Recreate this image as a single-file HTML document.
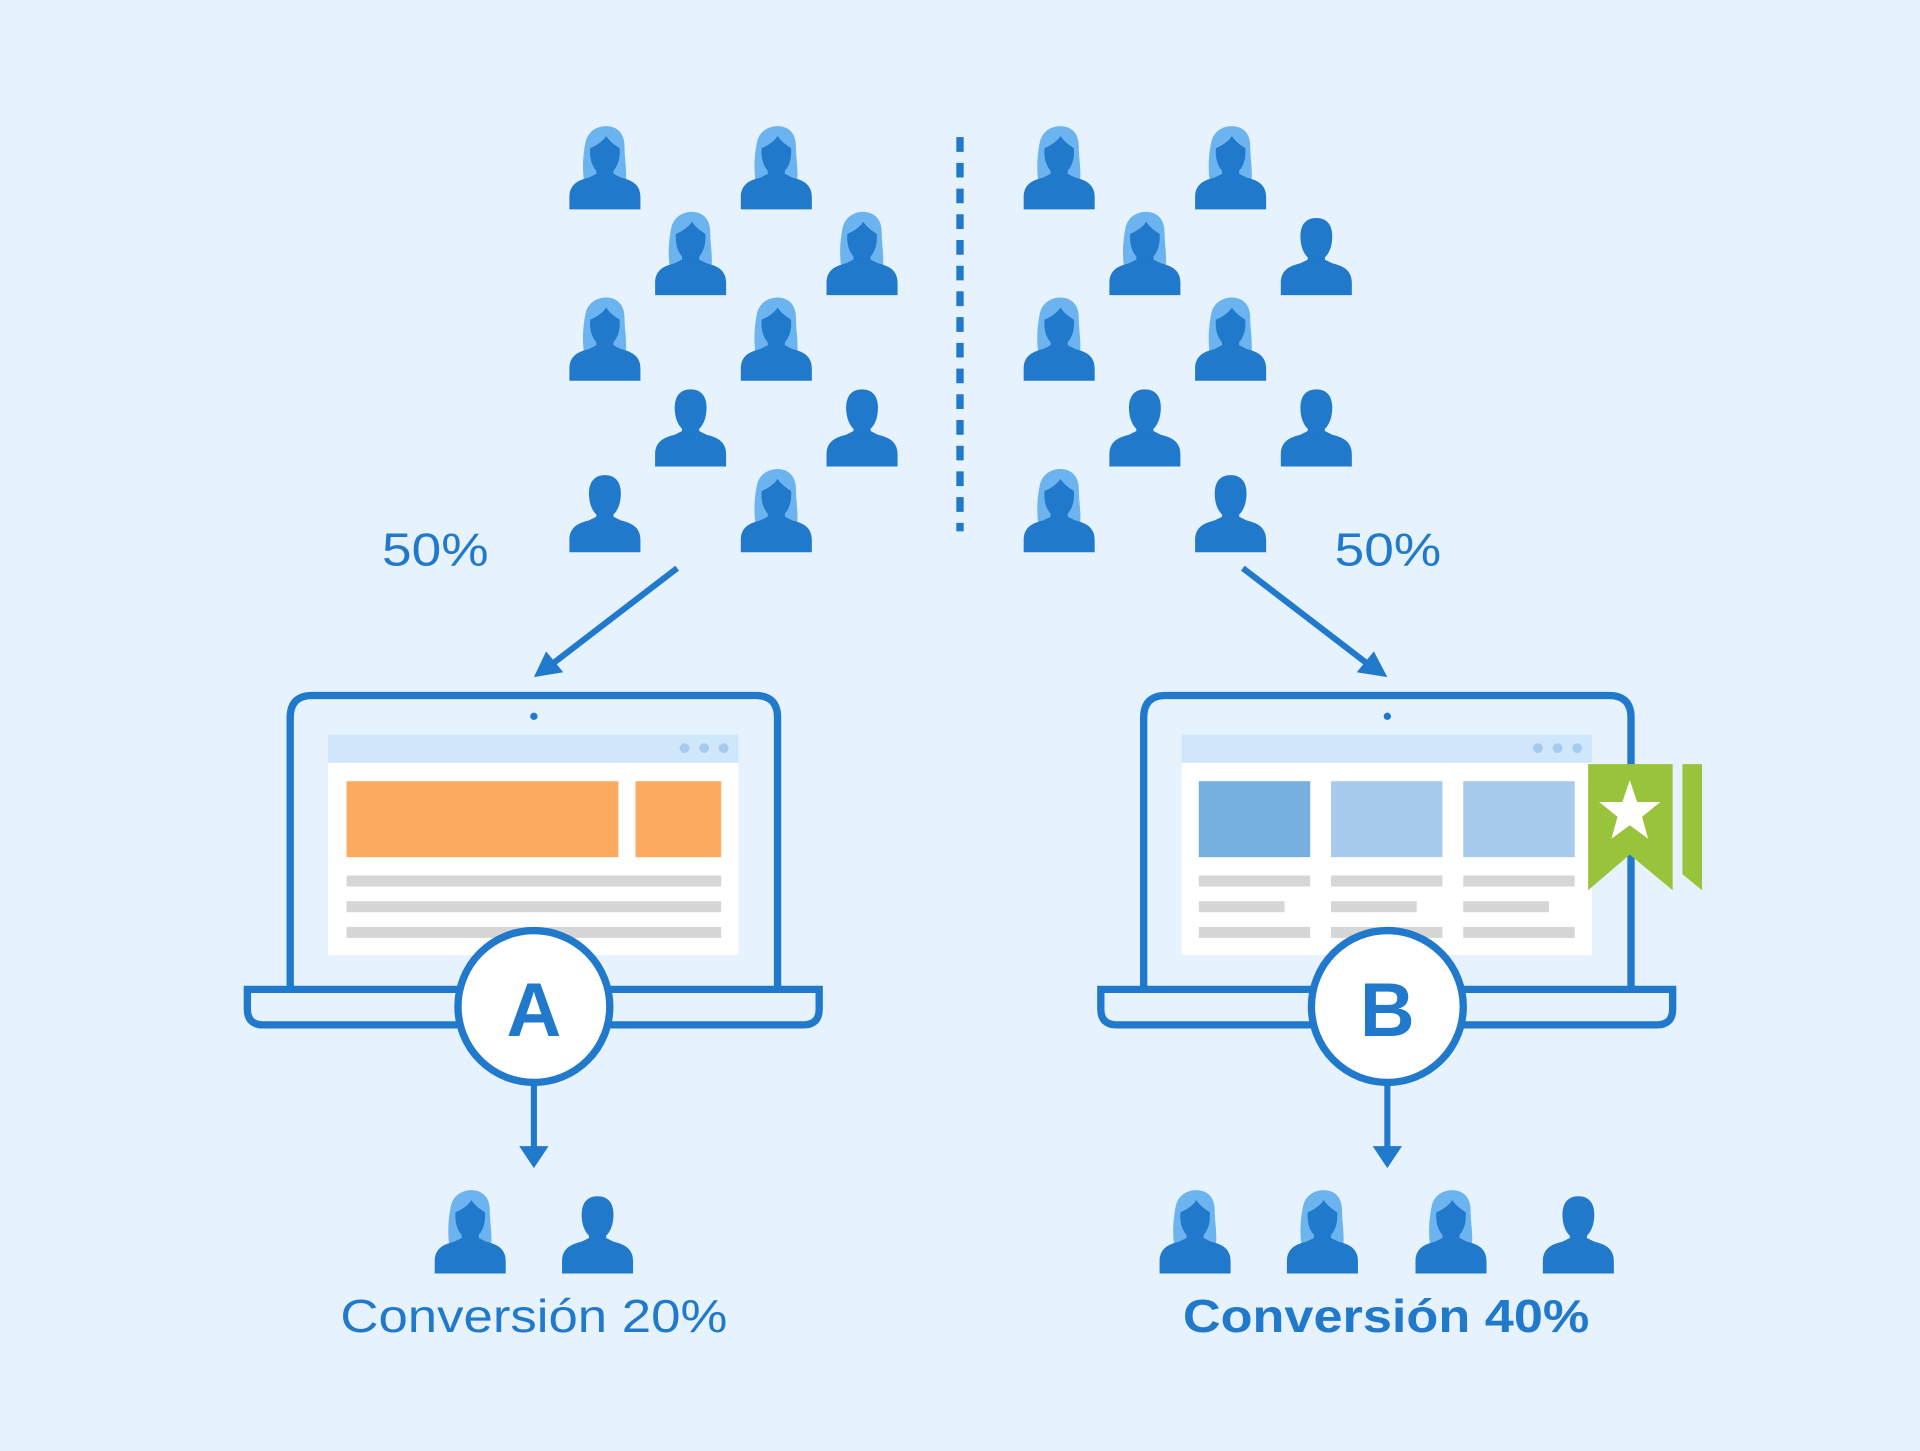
<!DOCTYPE html>
<html><head><meta charset="utf-8"><style>
html,body{margin:0;padding:0;background:#e6f2fd;}
svg{display:block;}
text{font-family:"Liberation Sans",Arial,sans-serif;fill:#2179cc;}
</style></head><body>
<svg width="1920" height="1451" viewBox="0 0 1568 1185" xmlns="http://www.w3.org/2000/svg">
<defs>
<symbol id="f" viewBox="0 0 58 68" overflow="visible">
  <path d="M13,50 C10,38 11,24 13,14 C15,3 24,0 30,0 C39,0 45,6 45,16 C45,28 48,40 45,50 Z" fill="#6cb4ef"/>
  <path d="M0,68 L0,58 C0,47 8,44 16,42 L22,39 L36,39 L42,42 C50,44 58,47 58,58 L58,68 Z" fill="#2179cc"/>
  <rect x="22" y="32" width="14" height="10" fill="#2179cc"/>
  <path d="M17,18 C22,16 28,12 30,8 C33,13 38,16 41,18 C42,30 37,39 29,40 C21,39 16,30 17,18 Z" fill="#2179cc"/>
</symbol>
<symbol id="m" viewBox="0 0 58 68" overflow="visible">
  <path d="M0,68 L0,58 C0,47 8,44 16,42 L22,39 L36,39 L42,42 C50,44 58,47 58,58 L58,68 Z" fill="#2179cc"/>
  <rect x="22" y="32" width="14" height="10" fill="#2179cc"/>
  <path d="M16,20 C16,10 21,5 29,5 C37,5 42,10 42,20 C42,31 37,40 29,40 C21,40 16,31 16,20 Z" fill="#2179cc"/>
</symbol>
</defs>
<rect width="1568" height="1185" fill="#e6f2fd"/>

<use href="#f" x="465" y="103" width="58" height="68"/>
<use href="#f" x="605" y="103" width="58" height="68"/>
<use href="#f" x="836" y="103" width="58" height="68"/>
<use href="#f" x="976" y="103" width="58" height="68"/>
<use href="#f" x="535" y="173" width="58" height="68"/>
<use href="#f" x="675" y="173" width="58" height="68"/>
<use href="#f" x="906" y="173" width="58" height="68"/>
<use href="#m" x="1046" y="173" width="58" height="68"/>
<use href="#f" x="465" y="243" width="58" height="68"/>
<use href="#f" x="605" y="243" width="58" height="68"/>
<use href="#f" x="836" y="243" width="58" height="68"/>
<use href="#f" x="976" y="243" width="58" height="68"/>
<use href="#m" x="535" y="313" width="58" height="68"/>
<use href="#m" x="675" y="313" width="58" height="68"/>
<use href="#m" x="906" y="313" width="58" height="68"/>
<use href="#m" x="1046" y="313" width="58" height="68"/>
<use href="#m" x="465" y="383" width="58" height="68"/>
<use href="#f" x="605" y="383" width="58" height="68"/>
<use href="#f" x="836" y="383" width="58" height="68"/>
<use href="#m" x="976" y="383" width="58" height="68"/>

<line x1="784" y1="112" x2="784" y2="434" stroke="#2179cc" stroke-width="6" stroke-dasharray="12,9"/>

<text x="312" y="462" font-size="38" textLength="87" lengthAdjust="spacingAndGlyphs">50%</text>
<text x="1090" y="462" font-size="38" textLength="87" lengthAdjust="spacingAndGlyphs">50%</text>

<line x1="553" y1="464" x2="450" y2="543" stroke="#2179cc" stroke-width="5"/>
<polygon points="436,553 446,532 460,549" fill="#2179cc"/>
<line x1="1015" y1="464" x2="1118" y2="543" stroke="#2179cc" stroke-width="5"/>
<polygon points="1133,553 1108,549 1122,532" fill="#2179cc"/>

<g>
<path d="M237,808 L237,586 Q237,568 255,568 L617,568 Q635,568 635,586 L635,808" fill="none" stroke="#2179cc" stroke-width="6"/>
<circle cx="436" cy="585" r="3" fill="#2179cc"/>
<rect x="268" y="600" width="335" height="23" fill="#cfe6fb"/>
<circle cx="559" cy="611" r="4" fill="#a6cbec"/><circle cx="575" cy="611" r="4" fill="#a6cbec"/><circle cx="591" cy="611" r="4" fill="#a6cbec"/>
<rect x="268" y="623" width="335" height="157" fill="#fff"/>
<rect x="283" y="638" width="222" height="62" fill="#fbaa60"/>
<rect x="519" y="638" width="70" height="62" fill="#fbaa60"/>
<rect x="283" y="715" width="306" height="9" fill="#d6d6d6"/>
<rect x="283" y="736" width="306" height="9" fill="#d6d6d6"/>
<rect x="283" y="757" width="306" height="9" fill="#d6d6d6"/>
<path d="M202,808 L669,808 L669,824 Q669,837 656,837 L215,837 Q202,837 202,824 Z" fill="#e6f2fd" stroke="#2179cc" stroke-width="6"/>
<circle cx="436" cy="822" r="62" fill="#fff" stroke="#2179cc" stroke-width="6"/>
<text x="436" y="846" font-size="62" font-weight="bold" text-anchor="middle">A</text>
<line x1="436" y1="884" x2="436" y2="940" stroke="#2179cc" stroke-width="5"/>
<polygon points="424,936 448,936 436,954" fill="#2179cc"/>
</g>

<g>
<path d="M934,808 L934,586 Q934,568 952,568 L1314,568 Q1332,568 1332,586 L1332,808" fill="none" stroke="#2179cc" stroke-width="6"/>
<circle cx="1133" cy="585" r="3" fill="#2179cc"/>
<rect x="965" y="600" width="335" height="23" fill="#cfe6fb"/>
<circle cx="1256" cy="611" r="4" fill="#a6cbec"/><circle cx="1272" cy="611" r="4" fill="#a6cbec"/><circle cx="1288" cy="611" r="4" fill="#a6cbec"/>
<rect x="965" y="623" width="335" height="157" fill="#fff"/>
<rect x="979" y="638" width="91" height="62" fill="#76b0e0"/>
<rect x="1087" y="638" width="91" height="62" fill="#a6cbec"/>
<rect x="1195" y="638" width="91" height="62" fill="#a6cbec"/>
<rect x="979" y="715" width="91" height="9" fill="#d6d6d6"/><rect x="1087" y="715" width="91" height="9" fill="#d6d6d6"/><rect x="1195" y="715" width="91" height="9" fill="#d6d6d6"/>
<rect x="979" y="736" width="70" height="9" fill="#d6d6d6"/><rect x="1087" y="736" width="70" height="9" fill="#d6d6d6"/><rect x="1195" y="736" width="70" height="9" fill="#d6d6d6"/>
<rect x="979" y="757" width="91" height="9" fill="#d6d6d6"/><rect x="1087" y="757" width="91" height="9" fill="#d6d6d6"/><rect x="1195" y="757" width="91" height="9" fill="#d6d6d6"/>
<path d="M899,808 L1366,808 L1366,824 Q1366,837 1353,837 L912,837 Q899,837 899,824 Z" fill="#e6f2fd" stroke="#2179cc" stroke-width="6"/>
<polygon points="1297,624 1366,624 1366,727 1331,698 1297,727" fill="#98c33b"/>
<polygon points="1374,624 1390,624 1390,727 1374,714" fill="#98c33b"/>
<polygon points="1331,637 1337,655 1356,655 1341,667 1346,685 1331,674 1316,685 1321,667 1306,655 1325,655" fill="#fff"/>
<circle cx="1133" cy="822" r="62" fill="#fff" stroke="#2179cc" stroke-width="6"/>
<text x="1133" y="846" font-size="62" font-weight="bold" text-anchor="middle">B</text>
<line x1="1133" y1="884" x2="1133" y2="940" stroke="#2179cc" stroke-width="5"/>
<polygon points="1121,936 1145,936 1133,954" fill="#2179cc"/>
</g>

<use href="#f" x="355" y="972" width="58" height="68"/>
<use href="#m" x="459" y="972" width="58" height="68"/>
<use href="#f" x="947" y="972" width="58" height="68"/>
<use href="#f" x="1051" y="972" width="58" height="68"/>
<use href="#f" x="1156" y="972" width="58" height="68"/>
<use href="#m" x="1260" y="972" width="58" height="68"/>

<text x="278" y="1088" font-size="38" textLength="316" lengthAdjust="spacingAndGlyphs">Conversión 20%</text>
<text x="966" y="1088" font-size="38" font-weight="bold" textLength="332" lengthAdjust="spacingAndGlyphs">Conversión 40%</text>
</svg>
</body></html>
